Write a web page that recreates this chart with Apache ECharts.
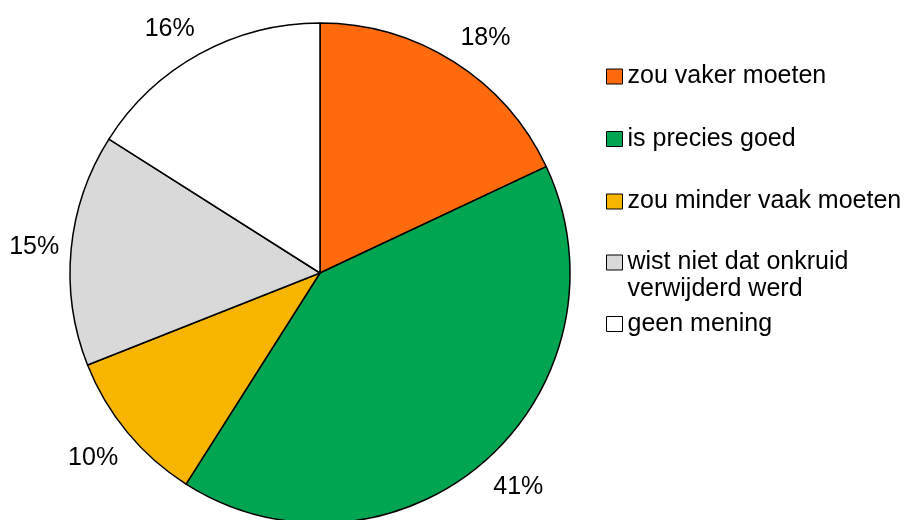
<!DOCTYPE html>
<html>
<head>
<meta charset="utf-8">
<script src="https://cdn.jsdelivr.net/npm/echarts@6/dist/echarts.min.js"></script>
<style>
  html, body { margin: 0; padding: 0; background: #fff; }
  #main { width: 908px; height: 520px; }
</style>
</head>
<body>
<div id="main"></div>
<script>
// antwoorden en percentages
var categories = ['zou vaker moeten', 'is precies goed', 'zou minder vaak moeten', 'wist niet dat onkruid\nverwijderd werd', 'geen mening'];
var values = [18, 41, 10, 15, 16];
var colors = ['#FF6A0D', '#00A551', '#F7B500', '#D9D9D9', '#FFFFFF'];

var myChart = echarts.init(document.getElementById('main'));

var font = 'Liberation Sans, Arial, sans-serif';
var R = 250;

// losse legenda's zodat elke regel op zijn eigen hoogte staat
var legendTops = [64, 126.5, 189, 222, 311.5];
var legends = categories.map(function (name, i) {
    var twoLines = name.indexOf('\n') >= 0;
    return {
        data: [name],
        orient: 'vertical',
        left: 606,
        top: legendTops[i],
        padding: 0,
        icon: 'rect',
        itemWidth: 16,
        itemHeight: 15,
        selectedMode: false,
        // lege eerste regel: marker komt dan bij de eerste tekstregel
        formatter: function (n) { return twoLines ? '\n' + n : n; },
        itemStyle: { borderColor: '#000', borderWidth: 1 },
        textStyle: {
            fontFamily: font,
            fontSize: 25,
            color: '#000',
            lineHeight: twoLines ? 27 : 25
        }
    };
});

function clamp(t) { return Math.max(-1, Math.min(1, t)); }

var option = {
    animation: false,
    color: colors,
    legend: legends,
    series: [
        {
            name: 'onkruid',
            type: 'pie',
            center: [320, 273],
            radius: R,
            startAngle: 90,
            clockwise: true,
            avoidLabelOverlap: false,
            itemStyle: {
                borderColor: '#000',
                borderWidth: 1.5
            },
            label: {
                show: true,
                position: 'outside',
                formatter: '{c}%',
                fontFamily: font,
                fontSize: 25,
                color: '#000'
            },
            labelLine: {
                show: true,
                length: 10,
                length2: 0,
                lineStyle: { opacity: 0 }
            },
            // label net buiten de rand, zoals Excel het doet
            labelLayout: function (params) {
                var p = params.labelLinePoints;
                if (!p) return {};
                var dx = p[1][0] - p[0][0], dy = p[1][1] - p[0][1];
                var len = Math.sqrt(dx * dx + dy * dy) || 1;
                dx /= len; dy /= len;
                var w = params.labelRect.width;
                return {
                    x: p[0][0] + dx * 12 + w / 2 * clamp(dx * 2),
                    y: p[0][1] + dy * 12 + 16 * clamp(dy * 2) + 2,
                    align: 'center',
                    verticalAlign: 'middle'
                };
            },
            emphasis: { disabled: true },
            data: categories.map(function (name, i) {
                return { name: name, value: values[i] };
            })
        }
    ]
};

myChart.setOption(option);
</script>
</body>
</html>
